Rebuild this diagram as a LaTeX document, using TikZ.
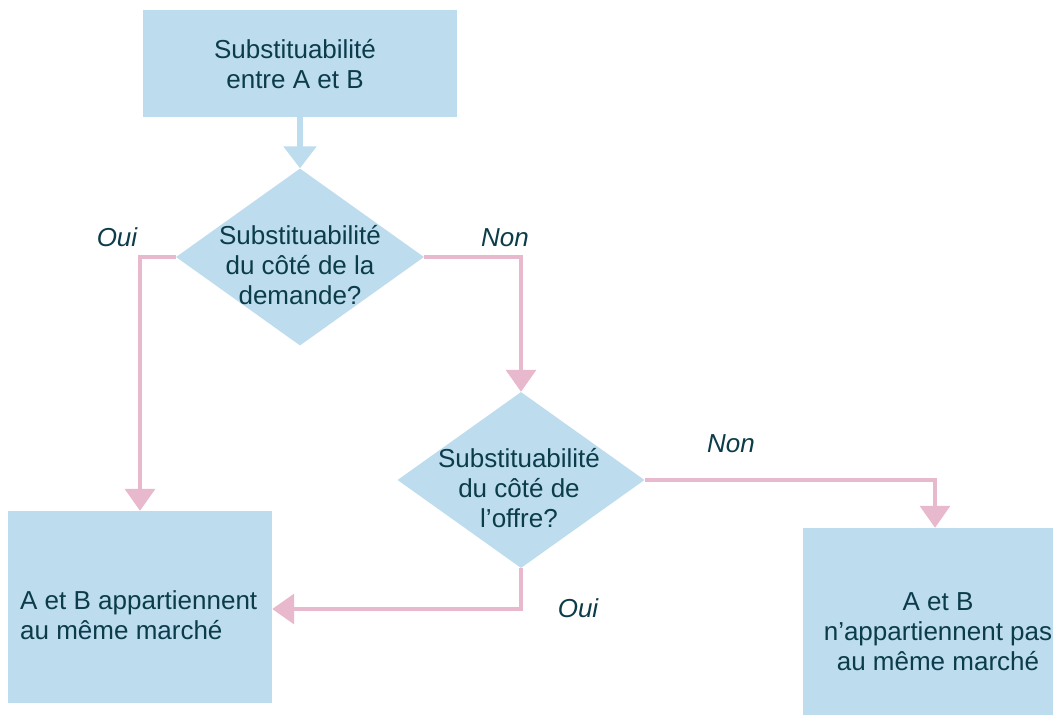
\documentclass[tikz,border=0pt]{standalone}
\usepackage{fontspec}
\setmainfont{Liberation Sans}
\usetikzlibrary{shapes.geometric,arrows.meta,calc}
\definecolor{boxblue}{HTML}{BDDCEE}
\definecolor{linepink}{HTML}{E8B9CC}
\definecolor{txtcol}{HTML}{0B3C49}
\tikzset{
  x=1pt,y=-1pt,
  boxnode/.style={draw=none,fill=boxblue,inner sep=0pt,text=txtcol,align=center,font=\fontsize{26}{31}\selectfont},
  dianode/.style={shape=diamond,draw=none,fill=boxblue,inner sep=0pt,minimum width=248pt,minimum height=177pt},
  txtnode/.style={text=txtcol,align=center,inner sep=0pt,font=\fontsize{26}{30}\selectfont},
  lblnode/.style={text=txtcol,inner sep=0pt,font=\fontsize{26}{30}\selectfont\itshape},
  blueline/.style={draw=boxblue,line width=6pt,-{Triangle[width=32pt,length=22pt]}},
  pinkline/.style={draw=linepink,line width=3.5pt,-{Triangle[width=30pt,length=22pt]}},
}
\begin{document}
\begin{tikzpicture}
\useasboundingbox (0,0) rectangle (1054,716);
\node[boxnode,minimum width=314pt,minimum height=107pt] (b1) at (300,63.5) {};
\node[txtnode] (t0) at (295,64) {Substituabilité\\entre A et B};
\node[dianode] (d1) at (300,257) {};
\node[txtnode] (t1) at (300,265) {Substituabilité\\du côté de la\\demande?};
\node[dianode,minimum width=247pt,minimum height=176pt] (d2) at (521,480) {};
\node[txtnode] (t2) at (519,488) {Substituabilité\\du côté de\\l’offre?};
\node[boxnode,minimum width=264pt,minimum height=192pt] (b2) at (140,607) {};
\node[txtnode,align=left,anchor=west] (t3) at (20,615) {A et B appartiennent\\au même marché};
\node[boxnode,minimum width=250pt,minimum height=187pt] (b3) at (928,621.5) {};
\node[txtnode] (t4) at (938,632) {A et B\\n’appartiennent pas\\au même marché};
\draw[blueline] (b1.south) -- (d1.north);
\draw[pinkline] (d1.west) -| (b2.north);
\draw[pinkline] (d1.east) -| (d2.north);
\draw[pinkline] (d2.east) -| ([xshift=7pt]b3.north);
\draw[pinkline] (d2.south) |- ([yshift=-2pt]b2.east);
\node[lblnode] (l1) at (117,237) {Oui};
\node[lblnode] (l2) at (505,238) {Non};
\node[lblnode] (l3) at (731,444) {Non};
\node[lblnode] (l4) at (578,608) {Oui};
\end{tikzpicture}
\end{document}
